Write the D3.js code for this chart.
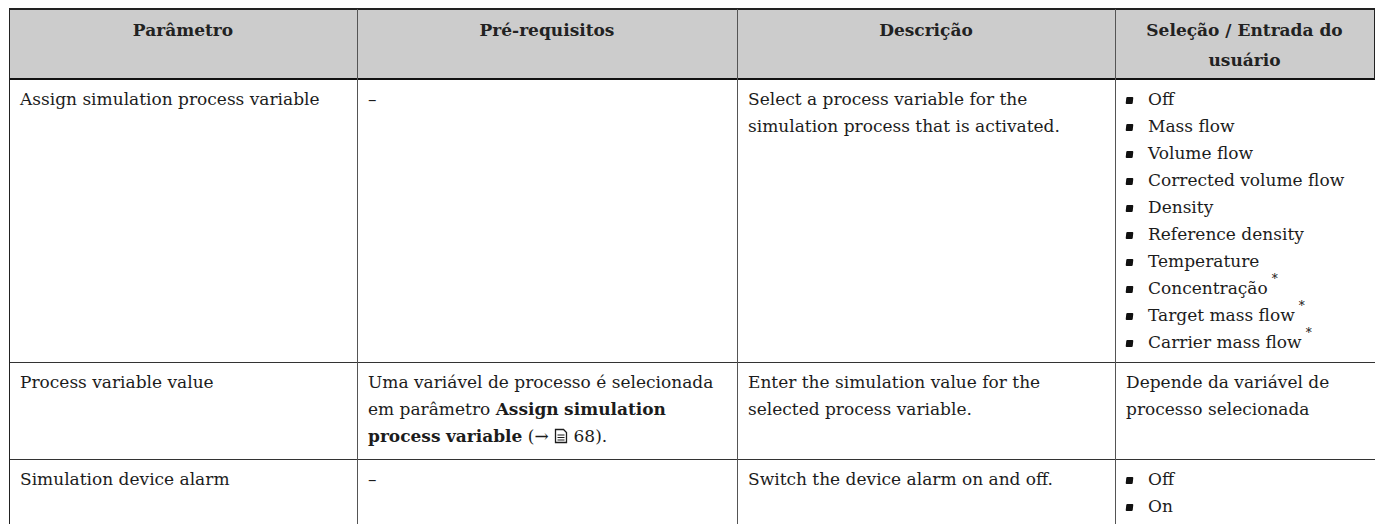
<!DOCTYPE html>
<html><head><meta charset="utf-8">
<script src="https://cdn.jsdelivr.net/npm/d3@7"></script>
<style>
html,body{margin:0;padding:0;background:#fff;}
#t{position:relative;width:1375px;height:524px;overflow:hidden;font-family:"DejaVu Serif",serif;color:#1c1c1c;}
.cell{position:absolute;box-sizing:border-box;padding:7px 10px 0 11px;font-size:17px;line-height:27px;}
.hd{text-align:center;font-weight:bold;line-height:30px;padding-top:6px;padding-left:10px;color:#222;}
.ln{position:absolute;}
ul{list-style:none;margin:0;padding:0;}
li{position:relative;padding-left:22px;}
li:before{content:"";position:absolute;left:0px;top:11px;width:7px;height:7px;background:#111;border-radius:1px;transform:skewX(-6deg);}
sup{font-size:12px;line-height:0;position:relative;top:-4px;margin-left:4px;color:#111;}
b{font-weight:bold;}
</style></head><body>
<div id="t"></div>
<script>
// ---- data ----
const headers = ["Parâmetro", "Pré-requisitos", "Descrição", "Seleção / Entrada do usuário"];
const parameters = ["Assign simulation process variable", "Process variable value", "Simulation device alarm"];
const prerequisites = [
  [{t:"–"}],
  [{t:"Uma variável de processo é selecionada em parâmetro "}, {t:"Assign simulation process variable", b:true}, {t:" (→ "}, {icon:true}, {t:" 68)."}],
  [{t:"–"}]
];
const descriptions = [
  "Select a process variable for the simulation process that is activated.",
  "Enter the simulation value for the selected process variable.",
  "Switch the device alarm on and off."
];
const options1 = ["Off", "Mass flow", "Volume flow", "Corrected volume flow", "Density", "Reference density", "Temperature", "Concentração", "Target mass flow", "Carrier mass flow"];
const options1Star = [false, false, false, false, false, false, false, true, true, true];
const options2 = "Depende da variável de processo selecionada";
const options3 = ["Off", "On"];

// ---- layout ----
const colEdges = [9, 357, 737, 1115, 1374];
const rowEdges = [9, 79, 362, 459, 560];
const x = d3.scaleOrdinal().domain(d3.range(4)).range(colEdges.slice(0,4));
const w = i => colEdges[i+1] - colEdges[i];
const y = d3.scaleOrdinal().domain(d3.range(4)).range(rowEdges.slice(0,4));
const h = i => rowEdges[i+1] - rowEdges[i];

const root = d3.select("#t");

// header background
root.append("div").attr("class","ln")
  .style("left", colEdges[0]+"px").style("top", rowEdges[0]+"px")
  .style("width", (colEdges[4]-colEdges[0])+"px").style("height", h(0)+"px")
  .style("background", "#cccccc");

const icon = '<svg width="14" height="16" viewBox="0 0 14 16" style="vertical-align:-2px"><path d="M1.5 1.5h8l3 3v10h-11z" fill="none" stroke="#1c1c1c" stroke-width="1.3"/><path d="M3.5 7h7M3.5 9.5h7M3.5 12h7" stroke="#1c1c1c" stroke-width="1.1"/></svg>';

function words(t, tag){
  // wrap each word separately so no inline box spans two lines
  return t.split(/(\s+)/).map(s => /^\s+$/.test(s) || s === "" ? s : "<"+tag+">"+s+"</"+tag+">").join("");
}
function rich(parts){
  return parts.map(p => p.icon ? icon : words(p.t, p.b ? "b" : "span")).join("");
}
function list(items, stars){
  return "<ul>" + items.map((s,i)=>"<li>"+s+(stars && stars[i] ? "<sup>*</sup>" : "")+"</li>").join("") + "</ul>";
}

const cells = [];
headers.forEach((t,c)=>cells.push({r:0,c,html:t,hd:true}));
parameters.forEach((t,r)=>cells.push({r:r+1,c:0,html:t}));
prerequisites.forEach((t,r)=>cells.push({r:r+1,c:1,html:rich(t)}));
descriptions.forEach((t,r)=>cells.push({r:r+1,c:2,html:t}));
cells.push({r:1,c:3,html:list(options1, options1Star)});
cells.push({r:2,c:3,html:options2});
cells.push({r:3,c:3,html:list(options3)});

root.selectAll("div.cell").data(cells).join("div")
  .attr("class", d => "cell" + (d.hd ? " hd" : ""))
  .style("left", d => x(d.c)+"px").style("top", d => y(d.r)+"px")
  .style("width", d => w(d.c)+"px").style("height", d => h(d.r)+"px")
  .html(d => d.html);

// horizontal lines
const hLines = [
  {y: rowEdges[0], t: 2, c: "#222"},
  {y: rowEdges[1], t: 2, c: "#111"},
  {y: rowEdges[2], t: 1, c: "#333"},
  {y: rowEdges[3], t: 1, c: "#333"}
];
root.selectAll("div.hl").data(hLines).join("div").attr("class","ln hl")
  .style("left", colEdges[0]+"px").style("top", d => (d.y - d.t/2)+"px")
  .style("width", (colEdges[4]-colEdges[0]+1)+"px").style("height", d => d.t+"px")
  .style("background", d => d.c);

// vertical lines
const vLines = colEdges.slice(0,4).map((v,i) => ({x:v, top:rowEdges[0], bottom:524, c: i===0 ? "#222" : "#555"}));
vLines.push({x:colEdges[4], top:rowEdges[0], bottom:rowEdges[1], c:"#222"});
root.selectAll("div.vl").data(vLines).join("div").attr("class","ln vl")
  .style("left", d => (d.x - 0.5)+"px").style("top", d => d.top+"px")
  .style("width", "1px").style("height", d => (d.bottom - d.top)+"px")
  .style("background", d => d.c);
</script>
</body></html>
